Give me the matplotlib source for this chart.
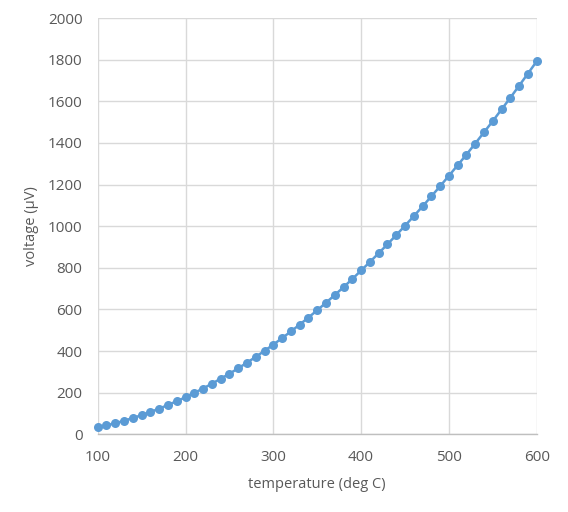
import matplotlib
matplotlib.use("Agg")
import matplotlib.pyplot as plt

temperature = list(range(100, 601, 10))
voltage = [33, 43, 53, 65, 78, 92, 107, 123, 141, 159,
           178, 199, 220, 243, 267, 291, 317, 344, 372, 401,
           431, 462, 494, 527, 561, 596, 632, 669, 707, 746,
           787, 828, 870, 913, 957, 1002, 1048, 1095, 1143, 1192,
           1242, 1293, 1344, 1397, 1451, 1505, 1561, 1617, 1675, 1733,
           1792]
xticks = [100, 200, 300, 400, 500, 600]
yticks = list(range(0, 2001, 200))

plt.rcParams['font.family'] = ['Open Sans', 'DejaVu Sans']
fig = plt.figure(figsize=(5.68, 5.12), dpi=100)
ax = fig.add_axes([97.7/568, 1 - 434.3/512, (536.7-97.7)/568, (434.3-18)/512])

color = '#5B9BD5'
ax.plot(temperature, voltage, color=color, lw=1.8, marker='o', ms=6.5,
        markeredgewidth=0, zorder=3, clip_on=False)

ax.set_xlim(100, 600)
ax.set_ylim(0, 2000)
ax.set_xticks(xticks)
ax.set_yticks(yticks)
ax.grid(True, color='#D9D9D9', lw=1)
ax.set_axisbelow(True)
for s in ['top', 'right', 'left']:
    ax.spines[s].set_visible(False)
ax.spines['bottom'].set_color('#BFBFBF')
ax.spines['bottom'].set_linewidth(1)
ax.tick_params(length=0, labelsize=11, labelcolor='#595959')
ax.tick_params(axis='y', pad=11)
ax.tick_params(axis='x', pad=11)
ax.set_xlabel('temperature (deg C)', fontsize=10.5, color='#595959')
ax.set_ylabel('voltage (µV)', fontsize=10.5, color='#595959')
ax.xaxis.set_label_coords(0.5, -0.103)
ax.yaxis.set_label_coords(-0.134, 0.5)

fig.savefig('out.png', dpi=100)
